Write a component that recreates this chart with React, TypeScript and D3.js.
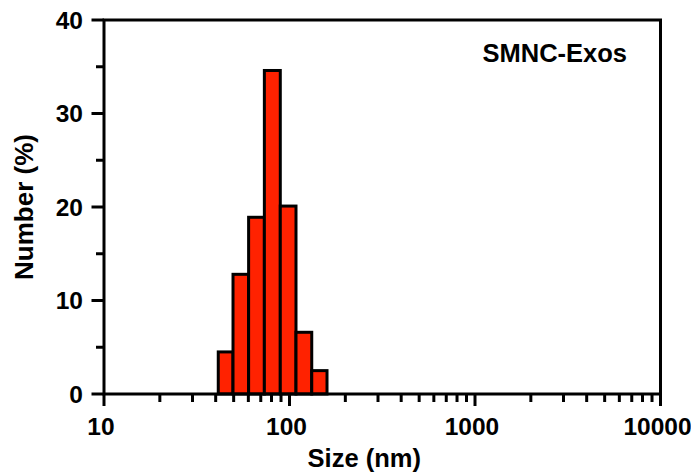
import React from "react";
import * as d3 from "d3";

const binEdges = [41.3, 49.6, 60.2, 73.2, 89.2, 108.4, 131.8, 159.3];
const numberPct = [4.5, 12.8, 18.9, 34.6, 20.1, 6.6, 2.5];
const xTickLabels = [10, 100, 1000, 10000];
const yTickLabels = [0, 10, 20, 30, 40];
const yMinorTicks = [5, 15, 25, 35];
const sampleName = "SMNC-Exos";

const W = 691;
const H = 473;
const margin = { left: 104, right: 30.5, top: 20, bottom: 79 };
const FONT = "'Liberation Sans', Arial, sans-serif";
const FILL = "#ff2200";

export default function App() {
  const x = d3
    .scaleLog()
    .domain([10, 10000])
    .range([margin.left, W - margin.right]);
  const y = d3
    .scaleLinear()
    .domain([0, 40])
    .range([H - margin.bottom, margin.top]);

  const x0 = x(10);
  const x1 = x(10000);
  const y0 = y(0);
  const y1 = y(40);

  const xMinor: number[] = [];
  for (let d = 10; d < 10000; d *= 10) {
    for (let k = 2; k <= 9; k++) xMinor.push(d * k);
  }

  const bars = numberPct.map((v, i) => ({
    l: binEdges[i],
    r: binEdges[i + 1],
    v,
  }));

  const sw = 3;

  return (
    <svg
      width={W}
      height={H}
      style={{ position: "absolute", left: 0, top: 0, background: "#fff" }}
    >
      {/* bars */}
      {bars.map((b, i) => (
        <rect
          key={i}
          x={x(b.l)}
          y={y(b.v)}
          width={x(b.r) - x(b.l)}
          height={y0 - y(b.v)}
          fill={FILL}
          stroke="#000"
          strokeWidth={sw}
        />
      ))}
      {/* frame */}
      <rect
        x={x0}
        y={y1}
        width={x1 - x0}
        height={y0 - y1}
        fill="none"
        stroke="#000"
        strokeWidth={sw}
      />
      {/* x ticks */}
      {xTickLabels.map((t) => (
        <line
          key={"xm" + t}
          x1={x(t)}
          x2={x(t)}
          y1={y0}
          y2={y0 + 12}
          stroke="#000"
          strokeWidth={sw}
        />
      ))}
      {xMinor.map((t) => (
        <line
          key={"xn" + t}
          x1={x(t)}
          x2={x(t)}
          y1={y0}
          y2={y0 + 8}
          stroke="#000"
          strokeWidth={sw}
        />
      ))}
      {/* y ticks */}
      {yTickLabels.map((t) => (
        <line
          key={"ym" + t}
          x1={x0 - 12.5}
          x2={x0}
          y1={y(t)}
          y2={y(t)}
          stroke="#000"
          strokeWidth={sw}
        />
      ))}
      {yMinorTicks.map((t) => (
        <line
          key={"yn" + t}
          x1={x0 - 8}
          x2={x0}
          y1={y(t)}
          y2={y(t)}
          stroke="#000"
          strokeWidth={sw}
        />
      ))}
      {/* x tick labels */}
      {xTickLabels.map((t) => (
        <text
          key={"xl" + t}
          x={x(t) - 3}
          y={y0 + 41}
          textAnchor="middle"
          fontFamily={FONT}
          fontWeight="bold"
          fontSize={24.5}
          fill="#000"
        >
          {t}
        </text>
      ))}
      {/* y tick labels */}
      {yTickLabels.map((t) => (
        <text
          key={"yl" + t}
          x={x0 - 21}
          y={y(t)}
          dy="0.36em"
          textAnchor="end"
          fontFamily={FONT}
          fontWeight="bold"
          fontSize={24.5}
          fill="#000"
        >
          {t}
        </text>
      ))}
      {/* axis titles */}
      <text
        x={(x0 + x1) / 2 - 18}
        y={H - 6}
        textAnchor="middle"
        fontFamily={FONT}
        fontWeight="bold"
        fontSize={25.5}
        fill="#000"
      >
        Size (nm)
      </text>
      <text
        transform={`translate(33,${(y0 + y1) / 2}) rotate(-90)`}
        textAnchor="middle"
        fontFamily={FONT}
        fontWeight="bold"
        fontSize={26}
        fill="#000"
      >
        Number (%)
      </text>
      <text
        x={627}
        y={62}
        textAnchor="end"
        fontFamily={FONT}
        fontWeight="bold"
        fontSize={25.5}
        fill="#000"
      >
        {sampleName}
      </text>
    </svg>
  );
}
